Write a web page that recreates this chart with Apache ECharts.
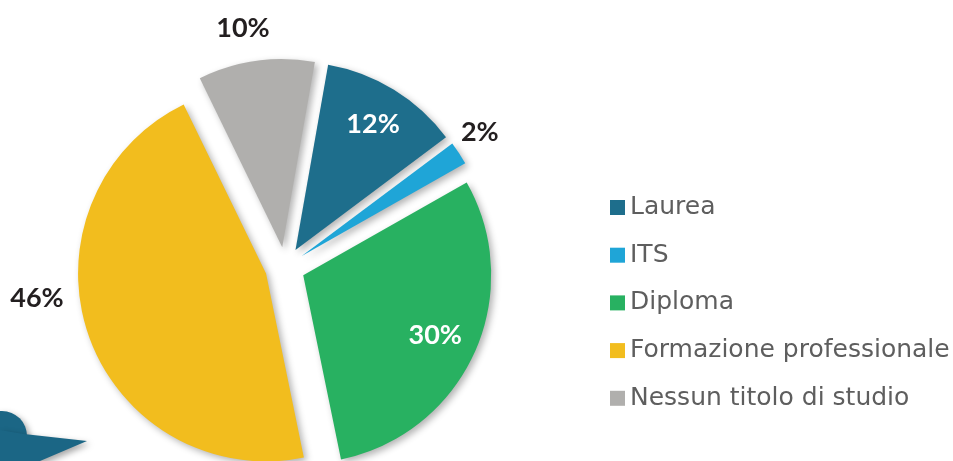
<!DOCTYPE html>
<html><head><meta charset="utf-8">
<script src="https://cdn.jsdelivr.net/npm/echarts@6/dist/echarts.min.js"></script>
<style>html,body{margin:0;padding:0;background:#fff}#c{width:953px;height:461px}</style>
</head><body><div id="c"></div>
<script>
const categories = ['Laurea', 'ITS', 'Diploma', 'Formazione professionale', 'Nessun titolo di studio'];
const values = [12, 2, 30, 46, 10];
const colors = ['#1e6e8c', '#1fa5d7', '#28b161', '#f2bd1e', '#b0afad'];

// label styling (not data)
const labelInside = [true, false, true, false, false];
const labelRadius = [168, 237, 165, 250, 242];
const labelAngleShift = [0, -1.5, 0, 11.5, -2];

const CX = 285, CY = 267, R = 188, START = 10; // start: degrees clockwise from 12 o'clock
const total = values.reduce((a, b) => a + b, 0);
const mids = []; let acc = 0;
values.forEach(v => { mids.push(START + (acc + v / 2) / total * 360); acc += v; });

const labelTexts = values.map((v, i) => {
  const a = (mids[i] + labelAngleShift[i]) * Math.PI / 180;
  return {
    type: 'text', silent: true, z: 100,
    x: CX + labelRadius[i] * Math.sin(a),
    y: CY - labelRadius[i] * Math.cos(a),
    style: {
      text: Math.round(v / total * 100) + '%',
      fill: labelInside[i] ? '#ffffff' : '#231f20',
      font: 'bold 27px Lato',
      align: 'center', verticalAlign: 'middle'
    }
  };
});

const chart = echarts.init(document.getElementById('c'));
chart.setOption({
  animation: false,
  backgroundColor: '#fff',
  graphic: [
    { type: 'group', silent: true, children: [
      { type: 'circle', shape: { cx: 2, cy: 436, r: 25 },
        style: { fill: '#1b6685', shadowBlur: 6, shadowColor: 'rgba(0,0,0,0.35)', shadowOffsetX: 3, shadowOffsetY: 3 } },
      { type: 'polygon', shape: { points: [[0, 430], [24, 434], [87, 441], [40, 461], [0, 461]] },
        style: { fill: '#1b6685', shadowBlur: 6, shadowColor: 'rgba(0,0,0,0.35)', shadowOffsetX: 3, shadowOffsetY: 3 } }
    ]}
  ].concat(labelTexts),
  legend: {
    orient: 'vertical',
    left: 605, top: 190,
    itemWidth: 15, itemHeight: 15, itemGap: 22.7,
    icon: 'rect',
    selectedMode: false,
    data: categories,
    textStyle: { fontFamily: 'DejaVu Sans', fontSize: 25, color: '#5e5e5e', lineHeight: 24 }
  },
  series: [{
    type: 'pie',
    center: [CX, CY],
    radius: R,
    startAngle: 90 - START,
    clockwise: true,
    selectedMode: 'multiple',
    selectedOffset: 20,
    avoidLabelOverlap: false,
    emphasis: { disabled: true },
    labelLine: { show: false },
    label: { show: false },
    itemStyle: { shadowBlur: 7, shadowColor: 'rgba(0,0,0,0.3)', shadowOffsetX: 3, shadowOffsetY: 3 },
    data: categories.map((n, i) => ({
      name: n, value: values[i], selected: true,
      itemStyle: { color: colors[i] }
    }))
  }]
});
</script></body></html>
